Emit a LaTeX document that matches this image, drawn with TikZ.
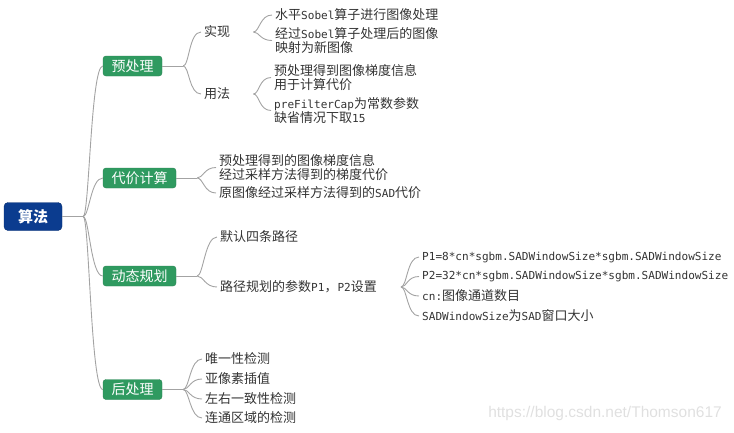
\documentclass[tikz,border=0pt]{standalone}
\usepackage{fontspec}
\usepackage{xcolor}
\usepackage{tikz}
\usetikzlibrary{positioning}
\newfontfamily\cjkfont{Noto Sans CJK SC}
\newfontfamily\latfont{DejaVu Sans Mono}[Scale=0.85]
\newfontfamily\stampfont{Liberation Sans}
\definecolor{mapblue}{HTML}{0B3C8F}
\definecolor{mapgreen}{HTML}{2F9A60}
\definecolor{mapline}{HTML}{A3A3A3}
\definecolor{maptext}{HTML}{333333}
% CJK characters get class 1, latin runs a half-width mono face
\newcount\cjkcode
\newcommand\cjkrange[2]{\cjkcode=#1
  \loop \XeTeXcharclass\cjkcode=1 \advance\cjkcode by 1 \ifnum\cjkcode<#2 \repeat}
\cjkrange{"3000}{"3040}
\cjkrange{"4E00}{"A000}
\cjkrange{"FF00}{"FFF0}
\XeTeXinterchartoks 0 1 = {\cjkfont}
\XeTeXinterchartoks 1 0 = {\latfont}
\XeTeXinterchartoks 4095 0 = {\latfont}
\XeTeXinterchartoks 4095 1 = {\cjkfont}
\newcommand\mapfont{\XeTeXinterchartokenstate=1 \cjkfont\fontsize{13}{13.5}\selectfont}
\tikzset{
  root/.style={rectangle, rounded corners=4pt, draw=mapblue!80!black, fill=mapblue,
               text=white, minimum width=58pt, minimum height=28pt, inner sep=0pt,
               font=\cjkfont\bfseries\fontsize{15}{17}\selectfont},
  stage/.style={rectangle, rounded corners=3pt, draw=mapgreen!85!black, fill=mapgreen,
                text=white, minimum height=20pt, inner xsep=8.5pt, inner ysep=0pt,
                font=\cjkfont\fontsize{14}{16}\selectfont},
  topic/.style={anchor=west, inner xsep=3pt, inner ysep=1pt, align=left,
                text=maptext, font=\mapfont},
  stamp/.style={text=black!12, font=\stampfont\fontsize{15.5}{17}\selectfont},
  conn/.style={draw=mapline, line width=0.9pt},
  branch/.style={out=0, in=180, out distance=6pt, in distance=12pt}
}
\begin{document}
\begin{tikzpicture}[x=1pt, y=-1pt]
  \useasboundingbox (0,0) rectangle (734,432);
  % root and stages
  \node[root] (alg) at (33,216.5) {算法};
  \node[stage] (pre) at (132.5,66) {预处理};
  \node[stage] (cost) at (139.5,178) {代价计算};
  \node[stage] (dp) at (139.5,276) {动态规划};
  \node[stage] (post) at (132.5,389.5) {后处理};
  \coordinate[right=21pt of alg] (alg-f);
  \draw[conn] (alg) -- (alg-f);
  \foreach \s in {pre,cost,dp,post} {
    \draw[conn] (alg-f) to[branch] (\s.west);
    \coordinate[right=21pt of \s] (\s-f);
    \draw[conn] (\s) -- (\s-f);
  }

  % preprocessing
  \node[topic] (pre-a) at (201,32) {实现};
  \node[topic] (pre-b) at (201,94) {用法};
  \node[topic] (pre-a1) at (272,15) {水平Sobel算子进行图像处理};
  \node[topic] (pre-a2) at (272,40.5) {经过Sobel算子处理后的图像\\映射为新图像};
  \node[topic] (pre-b1) at (271,77.5) {预处理得到图像梯度信息\\用于计算代价};
  \node[topic] (pre-b2) at (271,110.5) {preFilterCap为常数参数\\缺省情况下取15};
  \coordinate[right=20pt of pre-a] (pre-a-f);
  \coordinate[right=20pt of pre-b] (pre-b-f);
  \draw[conn] (pre-f) to[branch] (pre-a.west);
  \draw[conn] (pre-f) to[branch] (pre-b.west);
  \draw[conn] (pre-a-f) to[branch] (pre-a1.west);
  \draw[conn] (pre-a-f) to[branch] (pre-a2.west);
  \draw[conn] (pre-b-f) to[branch] (pre-b1.west);
  \draw[conn] (pre-b-f) to[branch] (pre-b2.west);

  % cost
  \node[topic] (cost-1) at (216,167.5) {预处理得到的图像梯度信息\\经过采样方法得到的梯度代价};
  \node[topic] (cost-2) at (216,193) {原图像经过采样方法得到的SAD代价};
  \draw[conn] (cost-f) to[branch] (cost-1.west);
  \draw[conn] (cost-f) to[branch] (cost-2.west);

  % dynamic programming
  \node[topic] (dp-1) at (217,237) {默认四条路径};
  \node[topic] (dp-2) at (217,287) {路径规划的参数P1，P2设置};
  \draw[conn] (dp-f) to[branch] (dp-1.west);
  \draw[conn] (dp-f) to[branch] (dp-2.west);
  \coordinate[right=21pt of dp-2] (dp-2-f);
  \foreach \t/\y [count=\i] in {P1=8*cn*sgbm.SADWindowSize*sgbm.SADWindowSize/257,
      P2=32*cn*sgbm.SADWindowSize*sgbm.SADWindowSize/276.5,
      cn:图像通道数目/296, SADWindowSize为SAD窗口大小/316} {
    \node[topic] (dp-2\i) at (419,\y) {\t};
    \draw[conn] (dp-2-f) to[branch] (dp-2\i.west);
  }

  % postprocessing
  \foreach \t/\y [count=\i] in {唯一性检测/359, 亚像素插值/379, 左右一致性检测/399, 连通区域的检测/418} {
    \node[topic] (post-\i) at (202,\y) {\t};
    \draw[conn] (post-f) to[branch] (post-\i.west);
  }

  \node[stamp] (wm) at (605,413) {https://blog.csdn.net/Thomson617};
\end{tikzpicture}
\end{document}
